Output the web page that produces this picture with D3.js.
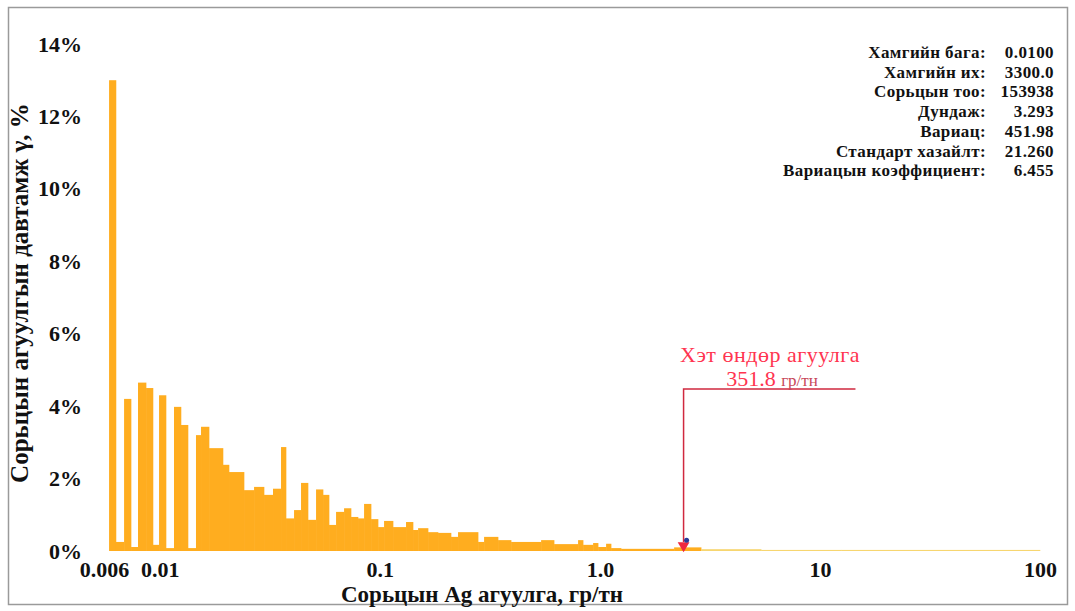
<!DOCTYPE html>
<html>
<head>
<meta charset="utf-8">
<script src="https://cdn.jsdelivr.net/npm/d3@7"></script>
<style>
	body { margin: 0; background: #fff; }
	text { font-family: "Liberation Serif", "Times New Roman", serif; }
</style>
</head>
<body>
<svg id="chart" width="1075" height="611"></svg>
<script>
/* bin edges (g/t) and frequency of each bin (%) */
const binEdges = [
	0.00588, 0.00632, 0.00688, 0.0074, 0.00796, 0.00866, 0.00931, 0.00992, 0.01067, 0.0116,
	0.01248, 0.01343, 0.0146, 0.01539, 0.01674, 0.01937, 0.02063, 0.02414, 0.02681, 0.02976,
	0.03269, 0.03555, 0.03746, 0.04074, 0.04383, 0.04716, 0.05129, 0.05518, 0.05876, 0.06323,
	0.06876, 0.07396, 0.07958, 0.08477, 0.0912, 0.09813, 0.1045, 0.1148, 0.1315, 0.1415,
	0.1492, 0.1656, 0.1838, 0.2106, 0.2266, 0.2795, 0.2976, 0.3445, 0.3948, 0.5404,
	0.6191, 0.7958, 0.8387, 0.9313, 0.9813, 1.067, 1.124, 1.248, 2.174, 2.884,
	5.404, 12.48, 100
];
const freq = [
	13.0, 0.25, 4.2, 0.11, 4.65, 4.5, 0.17, 4.3, 0.08, 3.98,
	3.48, 0.08, 3.2, 3.43, 2.84, 2.38, 2.18, 1.68, 1.77, 1.55,
	1.72, 2.87, 0.9, 1.13, 1.88, 0.86, 1.7, 1.55, 0.72, 1.08,
	1.18, 0.94, 0.9, 1.3, 0.88, 0.66, 0.83, 0.66, 0.8, 0.58,
	0.63, 0.52, 0.5, 0.39, 0.52, 0.25, 0.39, 0.3, 0.25, 0.3,
	0.19, 0.3, 0.17, 0.22, 0.11, 0.2, 0.08, 0.06, 0.1, 0.05,
	0.03, 0.03
];

/* axis ticks */
const xTicks = [0.006, 0.01, 0.1, 1, 10, 100];
const xTickLabels = ["0.006", "0.01", "0.1", "1.0", "10", "100"];
const yTicks = [0, 2, 4, 6, 8, 10, 12, 14];

/* summary statistics */
const statLabels = ["Хамгийн бага:", "Хамгийн их:", "Сорьцын тоо:", "Дундаж:", "Вариац:", "Стандарт хазайлт:", "Вариацын коэффициент:"];
const statValues = ["0.0100", "3300.0", "153938", "3.293", "451.98", "21.260", "6.455"];

/* annotation */
const annotAt = 2.4;
const annotLines = ["Хэт өндөр агуулга", "351.8"];
const annotUnit = "гр/тн";

const svg = d3.select("#chart");

const x = d3.scaleLog().domain([0.006, 100]).range([111, 1040]);
const y = d3.scaleLinear().domain([0, 14]).range([551, 44]);

// frame
svg.append("rect")
	.attr("x", 8.5).attr("y", 7.5)
	.attr("width", 1059).attr("height", 597)
	.attr("fill", "none")
	.attr("stroke", "#9a9a9a")
	.attr("stroke-width", 1.5);

// bars
const bins = freq.map((f, i) => ({ lo: binEdges[i], hi: binEdges[i + 1], f: f }));
svg.append("g")
	.selectAll("rect")
	.data(bins)
	.join("rect")
	.attr("x", d => x(d.lo))
	.attr("width", d => x(d.hi) - x(d.lo) + 0.3)
	.attr("y", d => y(d.f))
	.attr("height", d => Math.max(y(0) - y(d.f), 1))
	.attr("fill", d => d.lo > 2.5 ? "#f7d670" : "#ffad1f");

// y axis labels (no domain line)
const yAxis = svg.append("g")
	.attr("transform", "translate(104,0)")
	.call(d3.axisLeft(y).tickValues(yTicks).tickSize(0).tickPadding(22).tickFormat(d => d + "%"));
yAxis.select(".domain").remove();
yAxis.selectAll("text")
	.attr("font-family", "Liberation Serif, Times New Roman, serif")
	.attr("font-weight", "bold")
	.attr("font-size", 22)
	.attr("fill", "#111");

// x axis labels
const xAxis = svg.append("g")
	.attr("transform", "translate(0,553)")
	.call(d3.axisBottom(x).tickValues(xTicks).tickSize(0).tickPadding(8)
		.tickFormat((d, i) => xTickLabels[i]));
xAxis.select(".domain").remove();
xAxis.selectAll("text")
	.attr("font-family", "Liberation Serif, Times New Roman, serif")
	.attr("font-weight", "bold")
	.attr("font-size", 22)
	.attr("fill", "#111");
xAxis.selectAll(".tick").filter(d => d === 0.006)
	.select("text").attr("dx", -7);

// axis titles
svg.append("text")
	.attr("x", 482)
	.attr("y", 602)
	.attr("text-anchor", "middle")
	.attr("font-weight", "bold")
	.attr("font-size", 23)
	.attr("fill", "#111")
	.text("Сорьцын Ag агуулга, гр/тн");

svg.append("text")
	.attr("transform", "translate(28,293) rotate(-90)")
	.attr("text-anchor", "middle")
	.attr("font-weight", "bold")
	.attr("font-size", 25)
	.attr("fill", "#111")
	.text("Сорьцын агуулгын давтамж γ, %");

// statistics block
const stats = svg.append("g")
	.attr("font-weight", "bold")
	.attr("font-size", 17)
	.attr("letter-spacing", 0.4)
	.attr("fill", "#111");
statLabels.forEach((lab, i) => {
	stats.append("text")
		.attr("x", 986)
		.attr("y", 58 + i * 19.7)
		.attr("text-anchor", "end")
		.text(lab);
	stats.append("text")
		.attr("x", 1054)
		.attr("y", 58 + i * 19.7)
		.attr("text-anchor", "end")
		.text(statValues[i]);
});

// annotation for the extreme grade
const ax = x(annotAt);
const lineY = 389;
svg.append("path")
	.attr("d", `M${x(14.5)},${lineY} H${ax} V${y(0.25)}`)
	.attr("fill", "none")
	.attr("stroke", "#d0283f")
	.attr("stroke-width", 1.5);
svg.append("path")
	.attr("d", d3.symbol(d3.symbolTriangle, 60)())
	.attr("transform", `translate(${ax},${y(0.15)}) rotate(180)`)
	.attr("fill", "#f0283f");
svg.append("circle")
	.attr("cx", ax + 3)
	.attr("cy", y(0.3))
	.attr("r", 2.5)
	.attr("fill", "#2a3a9a");

svg.append("text")
	.attr("x", 770)
	.attr("y", 362)
	.attr("text-anchor", "middle")
	.attr("font-size", 22)
	.attr("letter-spacing", 0.5)
	.attr("fill", "#ff3450")
	.text(annotLines[0]);
const t2 = svg.append("text")
	.attr("x", 772)
	.attr("y", 386)
	.attr("text-anchor", "middle")
	.attr("font-size", 22)
	.attr("fill", "#ff3450");
t2.append("tspan").text(annotLines[1] + " ");
t2.append("tspan").attr("font-size", 17).attr("fill", "#c8485a").text(annotUnit);
</script>
</body>
</html>
